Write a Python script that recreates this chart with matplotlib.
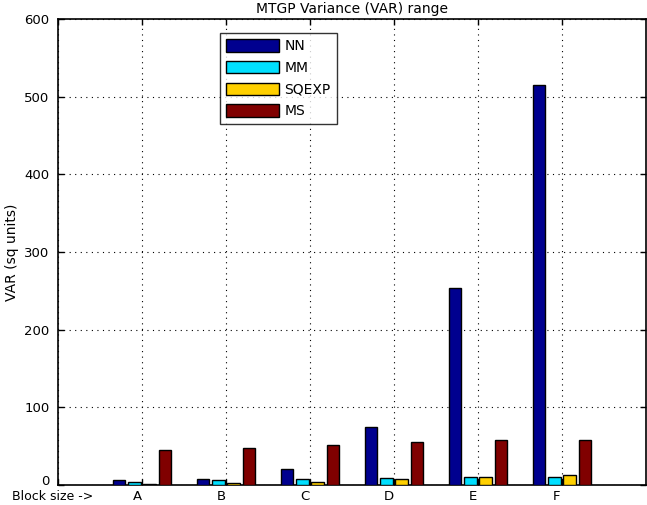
import matplotlib
matplotlib.use("Agg")
import matplotlib.pyplot as plt
import matplotlib.transforms as mtransforms
import numpy as np

categories = ["A", "B", "C", "D", "E", "F"]
tick_labels = ["Block size ->"] + categories
series_names = ["NN", "MM", "SQEXP", "MS"]
nn = [6.4, 7.3, 20, 75, 254, 515]
mm = [3.9, 6.0, 7.3, 8.6, 10.7, 10.7]
sqexp = [1.5, 2.6, 3.9, 7.3, 10.7, 12.5]
ms = [45, 47, 51, 55, 57.5, 57.5]
colors = ["#00008F", "#00DFFF", "#FFD000", "#800000"]

plt.rcParams["font.family"] = ["DejaVu Sans"]
plt.rcParams["font.size"] = 9.5

fig = plt.figure(figsize=(6.47, 5.05), dpi=100)
ax = fig.add_axes([58 / 647, 20 / 505, 588 / 647, 466 / 505])

x = np.arange(1, len(categories) + 1)
n = len(series_names)
groupwidth = min(0.8, n / (n + 1.5))
slot = groupwidth / n
bw = slot * 0.82
for i, (name, vals) in enumerate(zip(series_names, [nn, mm, sqexp, ms])):
    off = (i - (n - 1) / 2) * slot
    ax.bar(x + off, vals, width=bw, color=colors[i], edgecolor="black",
           linewidth=1.0, label=name, zorder=3)

ax.set_xlim(0, 7)
ax.set_ylim(0, 600)
ax.set_xticks(np.arange(0, 7))
ax.set_xticklabels(tick_labels)
ax.set_yticks(np.arange(0, 601, 100))
ax.tick_params(direction="in", length=4, width=1, top=True, right=True,
               labelsize=9.5)
ax.tick_params(axis="x", pad=3.7)
ax.tick_params(axis="y", pad=6)

ax.grid(True, linestyle=(0, (1, 4)), color="black", linewidth=0.8, zorder=0)
for s in ax.spines.values():
    s.set_linewidth(1.2)

ax.set_title("MTGP Variance (VAR) range", fontsize=10, pad=4)
ax.set_ylabel("VAR (sq units)", fontsize=10, labelpad=4)

leg = ax.legend(loc="upper left", bbox_to_anchor=(0.2755, 0.970),
                frameon=True, fancybox=False, edgecolor="black",
                handlelength=3.8, handleheight=1.0, fontsize=10,
                borderpad=0.45, labelspacing=0.55, handletextpad=0.4,
                borderaxespad=0)
leg.get_frame().set_linewidth(1.0)
leg.set_zorder(5)

fig.canvas.draw()
offset = mtransforms.ScaledTranslation(-5 / 100, 0, fig.dpi_scale_trans)
for lbl in ax.get_xticklabels():
    lbl.set_transform(lbl.get_transform() + offset)
ax.get_xticklabels()[0].set_fontsize(9)
ax.yaxis.get_major_ticks()[0].label1.set_verticalalignment("baseline")

fig.savefig("out.png", dpi=100)
